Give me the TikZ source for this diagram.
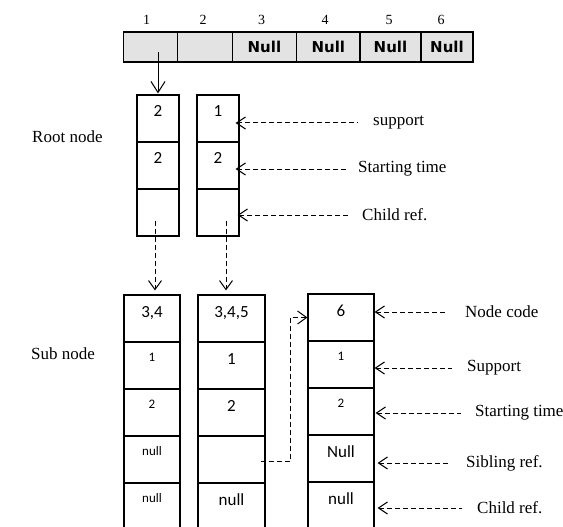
\documentclass[tikz,border=0pt]{standalone}
\usepackage{fontspec}
\setmainfont{Liberation Serif}
\newfontfamily\cellfont{Carlito}
\newfontfamily\slotfont{DejaVu Sans}
\usetikzlibrary{arrows.meta}

\begin{document}
\begin{tikzpicture}[x=1pt,y=1pt,
  cell/.style={draw,line width=1.2pt,minimum height=47pt,inner sep=0pt,text height=22pt,text depth=25pt,font=\cellfont\fontsize{17}{17}\selectfont},
  minor/.style={cell,text height=19pt,text depth=28pt,font=\cellfont\fontsize{13}{13}\selectfont},
  slot/.style={draw,line width=1.2pt,fill=black!11,minimum height=30pt,inner sep=0pt,font=\slotfont\bfseries\fontsize{15}{15}\selectfont},
  colnum/.style={inner sep=0pt,font=\fontsize{14}{14}\selectfont},
  lbl/.style={inner sep=0pt,anchor=west,font=\fontsize{17}{17}\selectfont},
  link/.style={dash pattern=on 5pt off 3pt,line width=1pt,-{Straight Barb[length=9pt,width=13pt]}},
  back/.style={dash pattern=on 5pt off 3pt,line width=1pt,{Straight Barb[length=9pt,width=12pt]}-}]
\useasboundingbox (0,0) rectangle (563,-527);
\foreach \x/\w/\t [count=\j] in {150.5/54.4/{},204.95/54.5/{},264.4/64.4/Null,328.3/63.4/Null,390.5/61/Null,447/52/Null}
  \node[slot,minimum width=\w pt] (a\j) at (\x,-47) {\t};
\foreach \x [count=\j] in {146.7,203,261.7,325,389,441}
  \node[colnum] (n\j) at (\x,-19.5) {\j};
\node[lbl] (lroot) at (32,-137) {Root node};
\node[lbl] (lsub) at (31,-354) {Sub node};
\foreach \t [count=\j] in {2,2,{}}
  \node[cell,minimum width=42pt] (r1-\j) at (158,-71.5-47*\j) {\t};
\foreach \t [count=\j] in {1,2,{}}
  \node[cell,minimum width=42pt] (r2-\j) at (218,-71.5-47*\j) {\t};
\foreach \t/\f [count=\j] in {{3,4}/cell,1/minor,2/minor,null/minor,null/minor}
  \node[\f,minimum width=56pt] (s1-\j) at (152,-271.5-47*\j) {\t};
\foreach \t/\f [count=\j] in {{3,4,5}/cell,1/cell,2/cell,{}/cell,null/cell}
  \node[\f,minimum width=67pt] (s2-\j) at (231.5,-271.5-47*\j) {\t};
\foreach \t/\f [count=\j] in {6/cell,1/minor,2/minor,Null/cell,null/cell}
  \node[\f,minimum width=66pt] (s3-\j) at (341,-270.5-47*\j) {\t};
\node[lbl] (l1) at (373,-123) {support};
\node[lbl] (l2) at (358,-169) {Starting time};
\node[lbl] (l3) at (362,-215) {Child ref.};
\node[lbl] (l4) at (465,-312) {Node code};
\node[lbl] (l5) at (467,-368) {Support};
\node[lbl] (l6) at (475,-413) {Starting time};
\node[lbl] (l7) at (466,-463) {Sibling ref.};
\node[lbl] (l8) at (477,-508) {Child ref.};
\draw[line width=1pt,-{Straight Barb[length=11pt,width=14pt]}] ([yshift=-5pt]r1-1.north |- a1.center) -- ([yshift=1pt]r1-1.north);
\draw[link] ([xshift=-3pt,yshift=16pt]r1-3.south) -- ([xshift=-3pt,yshift=4pt]r1-3.south |- s1-1.north);
\draw[link] ([xshift=8pt,yshift=16pt]r2-3.south) -- ([xshift=8pt,yshift=4pt]r2-3.south |- s2-1.north);
\draw[link] ([xshift=-5pt,yshift=-2pt]s2-4.east) -| ([xshift=-17pt]s3-1.west) -- (s3-1.west);
\draw[back] ([xshift=-4pt]r2-1.east |- l1.west) -- ([xshift=-15pt]l1.west);
\draw[back] ([xshift=-4pt]r2-2.east |- l2.west) -- ([xshift=-11pt]l2.west);
\draw[back] ([xshift=-2pt]r2-3.east |- l3.west) -- ([xshift=-13pt]l3.west);
\draw[back] (s3-1.east |- l4.west) -- ([xshift=-18pt]l4.west);
\draw[back] (s3-2.east |- l5.west) -- ([xshift=-15pt]l5.west);
\draw[back] ([xshift=1pt]s3-3.east |- l6.west) -- ([xshift=-14pt]l6.west);
\draw[back] ([xshift=3pt]s3-4.east |- l7.west) -- ([xshift=-15pt]l7.west);
\draw[back] ([xshift=3pt]s3-5.east |- l8.west) -- ([xshift=-15pt]l8.west);
\end{tikzpicture}
\end{document}
